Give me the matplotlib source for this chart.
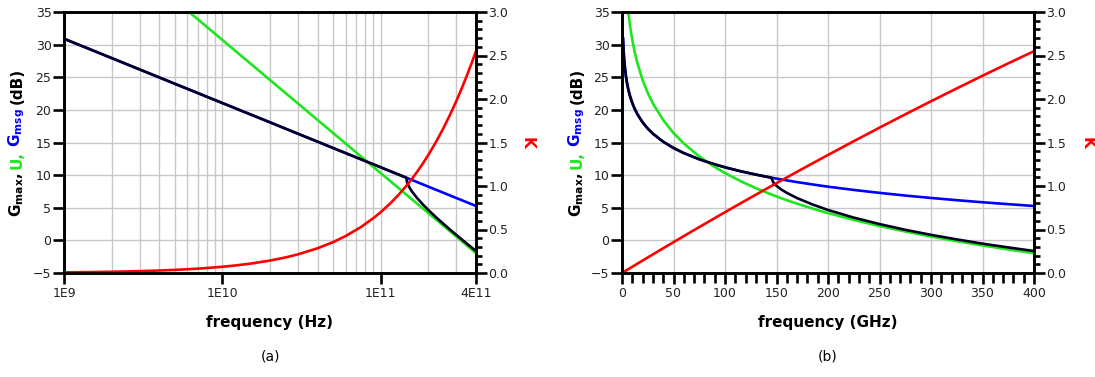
import numpy as np
import matplotlib
matplotlib.use("Agg")
import matplotlib.pyplot as plt
from matplotlib.ticker import (MultipleLocator, FixedLocator, LogLocator,
                               NullFormatter, FormatStrFormatter)

# frequency points (GHz)
freq_ghz = [1, 1.5, 2, 3, 4, 5, 6, 7, 8, 10, 12, 15, 20, 25, 30, 40, 50, 60, 75, 90,
            100, 115, 130, 145, 147, 150, 155, 160, 170, 185, 200, 225, 250, 275,
            300, 325, 350, 375, 400]

# unilateral gain U (dB)
u_db = [51.12, 47.53, 44.98, 41.39, 38.84, 36.86, 35.25, 33.88, 32.70, 30.72, 29.10,
        27.13, 24.58, 22.60, 20.99, 18.44, 16.46, 14.85, 12.87, 11.25, 10.32, 9.08,
        8.00, 7.03, 6.91, 6.73, 6.44, 6.16, 5.62, 4.87, 4.18, 3.14, 2.20, 1.36, 0.59,
        -0.12, -0.78, -1.39, -1.96]

# maximum stable gain (dB)
gmsg_db = [30.90, 29.17, 27.94, 26.20, 24.97, 24.01, 23.23, 22.58, 22.00, 21.05, 20.27,
           19.32, 18.09, 17.13, 16.35, 15.12, 14.16, 13.38, 12.43, 11.65, 11.20, 10.60,
           10.08, 9.61, 9.55, 9.47, 9.33, 9.19, 8.93, 8.57, 8.23, 7.73, 7.28, 6.87, 6.50,
           6.16, 5.84, 5.55, 5.27]

# maximum available gain (dB)
gmax_db = [30.90, 29.17, 27.94, 26.20, 24.97, 24.01, 23.23, 22.58, 22.00, 21.05, 20.27,
           19.32, 18.09, 17.13, 16.35, 15.12, 14.16, 13.38, 12.43, 11.65, 11.20, 10.60,
           10.08, 9.61, 8.85, 8.36, 7.76, 7.28, 6.48, 5.50, 4.66, 3.49, 2.50, 1.62, 0.85,
           0.15, -0.50, -1.08, -1.63]

# stability factor K
k_val = [0.0072, 0.0108, 0.0144, 0.0216, 0.0287, 0.0359, 0.0431, 0.0502, 0.0574, 0.0717,
         0.0860, 0.1074, 0.1430, 0.1785, 0.2140, 0.2845, 0.3545, 0.4242, 0.5280, 0.6308,
         0.6988, 0.8002, 0.9005, 1.0000, 1.0132, 1.0330, 1.0658, 1.0985, 1.1637, 1.2607,
         1.3568, 1.5149, 1.6705, 1.8235, 1.9739, 2.1217, 2.2671, 2.4098, 2.5500]

log_ticks = [1e9, 1e10, 1e11, 4e11]
log_labels = ["1E9", "1E10", "1E11", "4E11"]

GREEN = "#1ee61e"
BLUE = "#0000ff"
RED = "#ff0000"
DARK = "#000022"
GRID = "#c8c8c8"
LW = 1.9

plt.rcParams['font.family'] = ['DejaVu Sans']
plt.rcParams['mathtext.fontset'] = 'dejavusans'

W, H = 1095, 377
fig = plt.figure(figsize=(W / 100, H / 100), dpi=100)

f_ghz = np.array(freq_ghz)


def style_axes(ax, axr):
    for a in (ax, axr):
        for s in a.spines.values():
            s.set_linewidth(1.9)
            s.set_color("black")
    ax.set_ylim(-5, 35)
    ax.yaxis.set_major_locator(MultipleLocator(5))
    axr.set_ylim(0, 3)
    axr.yaxis.set_major_locator(MultipleLocator(0.5))
    axr.yaxis.set_minor_locator(MultipleLocator(0.1))
    axr.yaxis.set_major_formatter(FormatStrFormatter("%.1f"))
    ax.tick_params(axis='y', which='major', direction='out', length=8, width=1.9,
                   labelsize=9, labelcolor="#222222", pad=1)
    ax.tick_params(axis='x', which='major', direction='out', length=8, width=1.9,
                   labelsize=9, labelcolor="#222222", pad=2)
    axr.tick_params(axis='y', which='major', direction='out', length=8, width=1.9,
                    labelsize=9, labelcolor="#222222", pad=1)
    axr.tick_params(axis='y', which='minor', direction='out', length=4.5, width=1.9)
    ax.grid(True, axis='y', which='major', color=GRID, linewidth=1.0)
    ax.set_axisbelow(True)


def multicolor_ylabel(x_px, pieces, gap=4):
    # stack coloured pieces of a rotated label one above the other
    fig.canvas.draw()
    r = fig.canvas.get_renderer()
    texts = []
    for s, c in pieces:
        t = fig.text(x_px / W, 0.5, s, rotation=90, color=c, fontsize=11,
                     fontweight='bold', ha='center', va='bottom')
        texts.append(t)
    heights = [t.get_window_extent(renderer=r).height for t in texts]
    total = sum(heights) + gap * (len(texts) - 1)
    y = (H - 142.5) - total / 2
    for t, h in zip(texts, heights):
        t.set_position((x_px / W, y / H))
        y += h + gap


def ylabel_pieces():
    return [(r"$\mathbf{G_{max}}$,", "black"), ("U,", GREEN),
            (r"$\mathbf{G_{msg}}$", BLUE), ("(dB)", "black")]


# ---------- panel (a): log frequency ----------
ax1 = fig.add_axes([64 / W, 1 - 273 / H, 412 / W, 261 / H])
ax1r = ax1.twinx()
f_hz = f_ghz * 1e9
ax1.plot(f_hz, gmsg_db, color=BLUE, lw=LW, zorder=3)
ax1.plot(f_hz, u_db, color=GREEN, lw=LW, zorder=3)
ax1.plot(f_hz, gmax_db, color=DARK, lw=LW, zorder=4)
ax1r.plot(f_hz, k_val, color=RED, lw=LW)
ax1.set_xscale('log')
ax1.set_xlim(1e9, 4e11)
ax1.xaxis.set_major_locator(FixedLocator(log_ticks))
ax1.set_xticklabels(log_labels)
ax1.xaxis.set_minor_locator(LogLocator(base=10, subs=np.arange(2, 10)))
ax1.xaxis.set_minor_formatter(NullFormatter())
ax1.tick_params(axis='x', which='minor', length=0)
ax1.grid(True, axis='x', which='both', color=GRID, linewidth=1.0)
style_axes(ax1, ax1r)
ax1.set_xlabel("frequency (Hz)", fontsize=11, fontweight='bold', labelpad=11)
fig.text(270 / W, 1 - 357 / H, "(a)", ha='center', va='center', fontsize=10)
fig.text(527 / W, 1 - 143 / H, "K", ha='center', va='center', rotation=270,
         color=RED, fontsize=11, fontweight='bold')

# ---------- panel (b): linear frequency ----------
ax2 = fig.add_axes([622 / W, 1 - 273 / H, 412 / W, 261 / H])
ax2r = ax2.twinx()
ax2.plot(f_ghz, gmsg_db, color=BLUE, lw=LW, zorder=3)
ax2.plot(f_ghz, u_db, color=GREEN, lw=LW, zorder=3)
ax2.plot(f_ghz, gmax_db, color=DARK, lw=LW, zorder=4)
ax2r.plot(np.concatenate([[0], f_ghz]), np.concatenate([[0], k_val]), color=RED, lw=LW)
ax2.set_xlim(0, 400)
ax2.xaxis.set_major_locator(MultipleLocator(50))
ax2.xaxis.set_minor_locator(MultipleLocator(10))
ax2.tick_params(axis='x', which='minor', direction='out', length=7, width=1.9)
ax2.grid(True, axis='x', which='major', color=GRID, linewidth=1.0)
style_axes(ax2, ax2r)
ax2.set_xlabel("frequency (GHz)", fontsize=11, fontweight='bold', labelpad=11)
fig.text(828 / W, 1 - 357 / H, "(b)", ha='center', va='center', fontsize=10)
fig.text(1087 / W, 1 - 143 / H, "K", ha='center', va='center', rotation=270,
         color=RED, fontsize=11, fontweight='bold')

multicolor_ylabel(17, ylabel_pieces())
multicolor_ylabel(577, ylabel_pieces())

fig.savefig("out.png", dpi=100)
